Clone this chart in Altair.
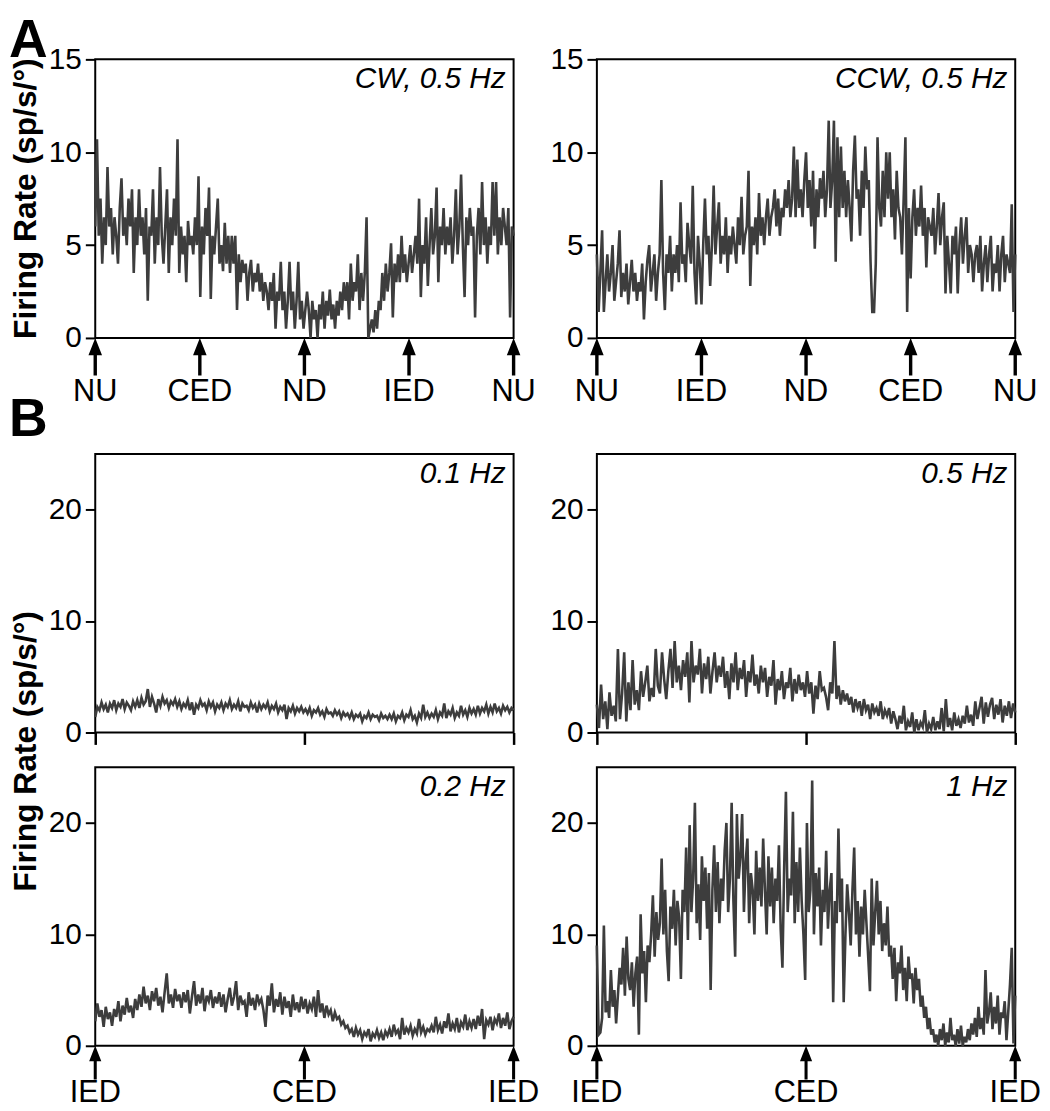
import altair as alt
import pandas as pd

W, H = 422, 281

# ---- data (firing rate, sp/s/deg, evenly spaced over one cycle) ----
cw_05 = [6, 10.7, 5.5, 7.5, 4, 6.5, 5, 9.2, 6, 7, 4.5, 6.5, 5.5, 4, 7, 8.6, 5.5, 6.5, 5, 7.5, 6, 8, 3.5, 6.5,
         5, 8, 5.5, 6.5, 4.5, 7, 2, 6, 5.5, 8, 4, 6.5, 5, 9.2, 5.5, 4, 6, 8, 3.5, 6.5, 5, 7.5, 5.5, 10.7,
         3.5, 6, 4.5, 5.5, 3, 6.3, 5, 5.5, 4.5, 6.5, 5, 8.7, 2.2, 6, 4.5, 7, 5.5, 8.1, 2.1, 5.5, 4.5, 6, 7.5, 4,
         5, 3.6, 6.2, 4, 5.5, 3.5, 5.5, 4, 5.5, 1.5, 4.5, 3, 4.2, 3.5, 4, 2, 3.5, 4.2, 2.5, 3.5, 3, 4, 2.5, 3.5,
         2, 3, 2.5, 1.5, 3, 2, 3.5, 0.5, 2.5, 2, 4.1, 1.5, 2.5, 0.5, 2, 4.1, 1.5, 2.5, 0.5, 2, 4.1, 1, 2, 0.5,
         1.5, 2.5, 1.5, 0, 2, 1, 1.5, 0, 1.8, 1, 2.5, 0.5, 2, 1.2, 2.6, 1, 1.8, 0.5, 2, 1.2, 2.5, 1.5, 3, 2,
         3, 1, 4, 2, 3, 2.5, 4.5, 1.5, 3.5, 2, 3.5, 6.5, 0, 0.5, 1, 0.3, 1.5, 0.5, 2, 1.5, 3.5, 2, 4, 2.5,
         3.5, 5.1, 1.1, 4, 3, 4.5, 3, 5.5, 3.5, 4.5, 3, 4, 5, 3.5, 4.5, 5.5, 4, 7.5, 2.2, 5, 4, 6.5, 2.8, 5,
         7, 4.5, 5.5, 8.1, 3, 6, 5, 7, 4.5, 6, 5, 6.5, 4, 5.5, 8, 4.5, 6, 8.8, 5, 2.2, 6.5, 5, 7, 5.5,
         6, 1.1, 5.5, 7, 4.5, 8.4, 5, 6.5, 4, 6, 5, 8.4, 5.5, 8.4, 4.5, 6.5, 5, 7, 6, 5, 7, 1.1, 6, 5.5]

ccw_05 = [4.5, 1.4, 3.5, 5.8, 1.4, 3, 4.5, 2.5, 3.5, 5, 2, 3, 4, 5.8, 2.2, 3.5, 2.5, 4, 1.8, 3, 4.2, 2.5, 3.5, 2,
          3, 2.5, 4, 1, 3, 4.2, 5, 2.5, 3.5, 4.5, 2, 3.5, 4.5, 8.5, 3.5, 1.5, 4.5, 3.5, 5.5, 2.5, 4.5, 3.5, 5, 3,
          7.3, 4, 4.5, 3, 6.2, 5, 4, 8.2, 3.5, 1.8, 5.5, 4, 1.8, 5, 7.5, 4.5, 5.5, 2.8, 5, 8.2, 4.5, 6, 7.3, 4,
          5.5, 4.5, 6.5, 3.5, 5.5, 4.5, 6, 5, 4, 6.5, 5, 7.6, 4.5, 5.5, 6, 9, 2.8, 6, 5, 6.5, 4.5, 7.8, 5.5, 6.5,
          5, 6.5, 7.5, 5.5, 6.5, 7, 8, 6, 7.5, 5.5, 7, 6.5, 8, 7, 8.5, 6.5, 7.5, 10.3, 6.5, 9.6, 7, 8, 6.5, 8.5,
          10, 7, 8.5, 6, 9, 4.8, 8, 6.5, 8.6, 7.5, 9, 6.5, 8, 11.7, 7, 8.5, 11.7, 4.1, 10.8, 6.5, 10.3, 7, 9, 6.5,
          8.5, 7, 5.2, 9, 10.9, 7.5, 8, 5.5, 9, 7, 10.3, 8, 8.5, 4.1, 1.4, 1.4, 4, 10.8, 7, 6, 9, 6.5, 10, 7.5,
          10, 6.5, 8, 5.3, 9, 7, 6.5, 4.5, 7.5, 10.8, 1.4, 7, 3.2, 6.5, 8, 5.5, 7, 6, 8.2, 5.5, 7, 3.8, 6.5, 6,
          5.5, 7, 4.5, 6, 7.8, 5, 6.5, 7.3, 2.4, 5.5, 4, 2.4, 5.5, 4.5, 6, 2.4, 5, 6.5, 4, 5.5, 6.5, 3.5, 5, 4.5,
          3, 4.5, 5, 3.5, 5.5, 2.5, 4, 5, 3, 4.5, 5.5, 2.5, 4, 3.5, 5, 2.5, 4.5, 5.5, 3, 4.5, 4, 3.5, 7.2, 1.4, 4.5]

hz_01 = [1.4, 2.3, 2.0, 2.7, 2.1, 2.5, 1.8, 2.6, 2.2, 2.9, 2.0, 2.6, 2.3, 3.0, 2.1, 2.7, 2.4, 2.0, 2.8, 2.3,
         2.9, 2.2, 3.1, 2.5, 2.8, 3.9, 2.3, 3.2, 2.6, 1.8, 3.0, 2.4, 3.2, 2.6, 2.9, 2.2, 2.8, 2.5, 3.0, 2.3,
         2.8, 2.1, 2.6, 2.3, 2.9, 2.0, 2.7, 1.6, 2.5, 2.2, 2.9, 2.4, 2.6, 2.0, 2.8, 2.3, 2.7, 1.9, 2.5, 2.2,
         2.7, 2.0, 2.6, 2.3, 2.9, 2.1, 2.5, 2.2, 2.8, 1.9, 2.6, 2.3, 2.4, 2.0, 2.7, 2.2, 2.5, 1.8, 2.6, 2.1,
         2.5, 2.2, 2.7, 1.9, 2.4, 2.1, 2.6, 1.8, 2.3, 2.0, 2.5, 1.2, 2.2, 1.9, 2.4, 1.7, 2.2, 1.9, 2.3, 1.8,
         2.1, 1.7, 2.2, 1.5, 2.0, 1.8, 2.2, 1.6, 1.9, 1.4, 2.1, 1.7, 1.8, 1.5, 2.0, 1.6, 1.9, 1.3, 1.8, 1.5,
         1.7, 1.3, 1.8, 1.2, 1.6, 1.4, 1.7, 1.0, 1.5, 1.3, 1.8, 1.2, 1.6, 1.4, 1.5, 1.1, 1.7, 1.3, 1.5, 1.2,
         1.6, 1.2, 1.7, 1.0, 1.5, 1.3, 1.8, 1.1, 1.6, 1.4, 2.0, 1.2, 1.5, 0.9, 1.7, 1.3, 2.5, 1.4, 1.8, 1.3,
         1.7, 1.4, 2.0, 1.2, 1.8, 1.5, 2.6, 1.3, 1.9, 1.6, 2.2, 1.3, 1.8, 1.5, 2.4, 1.6, 2.0, 1.4, 2.2, 1.7,
         2.1, 1.6, 2.4, 1.7, 2.2, 1.9, 2.5, 1.7, 2.3, 1.8, 2.6, 1.9, 2.2, 1.7, 2.4, 2.0, 2.3, 1.8, 2.2, 2.0]

hz_05 = [2.5, 0.4, 4.3, 1.2, 2.8, 0.3, 3.6, 1.5, 2.4, 1.0, 7.5, 1.2, 3.5, 7.2, 1.0, 4.5, 2.0, 6.5, 2.5, 3.8,
         2.0, 5.5, 3.2, 4.5, 6.0, 2.8, 4.0, 3.2, 7.5, 4.2, 3.5, 7.2, 4.8, 3.0, 5.5, 7.5, 4.0, 8.2, 4.5, 6.0,
         3.8, 6.5, 5.0, 7.2, 2.7, 8.2, 4.5, 6.0, 5.2, 7.5, 3.5, 6.2, 4.8, 6.8, 3.5, 5.5, 7.2, 4.5, 6.0, 5.0,
         6.8, 4.0, 5.5, 3.0, 6.2, 4.5, 7.2, 3.8, 5.8, 4.8, 6.5, 3.2, 5.5, 4.5, 7.0, 4.2, 5.2, 3.5, 6.0, 4.5,
         5.8, 3.2, 5.0, 4.2, 6.5, 2.5, 4.8, 3.8, 5.5, 3.0, 4.5, 4.0, 5.8, 2.8, 4.8, 3.5, 5.2, 3.8, 4.5, 3.2,
         5.5, 3.5, 4.5, 1.7, 4.2, 3.0, 5.5, 3.8, 4.0, 3.2, 2.0, 4.5, 3.5, 8.2, 3.0, 4.2, 2.5, 3.8, 2.8, 3.5,
         2.5, 3.2, 1.8, 3.0, 2.2, 2.8, 1.5, 3.0, 2.0, 2.5, 1.2, 2.6, 1.8, 2.2, 1.5, 2.8, 1.2, 2.0, 1.5, 2.2,
         0.8, 1.9, 1.2, 0.3, 1.5, 0.8, 2.4, 0.2, 1.0, 0.5, 1.8, 0.0, 1.2, 0.2, 0.9, 0.5, 2.0, 0.0, 0.8, 0.3,
         1.4, 0.2, 1.0, 0.3, 2.2, 0.1, 3.0, 0.5, 1.3, 0.2, 1.8, 0.6, 1.2, 0.4, 1.5, 0.8, 2.4, 0.9, 1.6, 0.6,
         2.8, 1.2, 2.2, 3.2, 0.8, 2.7, 1.4, 2.5, 3.1, 1.2, 2.5, 1.6, 3.0, 0.9, 2.4, 1.5, 2.8, 1.3, 2.6, 1.8]

hz_02 = [2.2, 3.8, 2.6, 3.2, 1.7, 3.5, 2.4, 3.0, 1.8, 3.3, 2.6, 4.0, 2.2, 3.6, 2.8, 4.3, 3.0, 3.6, 2.5, 4.2,
         3.2, 4.6, 3.5, 5.3, 3.8, 4.5, 3.2, 4.9, 4.0, 5.2, 3.6, 4.4, 3.0, 4.8, 6.5, 3.8, 4.6, 3.4, 5.1, 4.0,
         4.6, 3.4, 4.8, 3.9, 5.0, 2.9, 4.4, 5.8, 3.6, 4.6, 3.8, 5.2, 3.1, 4.5, 4.0, 5.0, 3.4, 4.4, 3.8, 4.8,
         3.5, 4.6, 3.0, 4.2, 5.2, 3.6, 4.4, 5.8, 3.2, 4.5, 3.8, 4.0, 2.6, 4.8, 3.6, 4.3, 3.2, 4.6, 3.8, 4.2,
         3.2, 1.7, 4.5, 3.6, 5.6, 3.0, 4.2, 3.5, 4.8, 2.8, 4.4, 3.4, 4.0, 2.6, 4.6, 3.2, 3.9, 3.0, 4.4, 3.3,
         4.2, 2.9, 3.8, 3.3, 4.4, 2.6, 5.0, 3.0, 3.8, 2.5, 3.6, 2.8, 3.2, 2.2, 3.0, 2.4, 2.6, 1.9, 2.2, 1.6,
         1.8, 1.2, 1.5, 0.8, 1.6, 1.0, 1.4, 0.6, 1.2, 0.9, 1.5, 0.4, 1.1, 0.8, 1.4, 0.7, 1.2, 0.5, 1.3, 0.9,
         1.5, 0.8, 1.9, 1.1, 1.4, 0.6, 2.5, 1.0, 1.6, 1.2, 1.8, 0.9, 1.5, 1.1, 2.4, 1.2, 1.7, 1.0, 1.5, 1.3,
         1.8, 1.2, 2.6, 1.4, 1.9, 1.1, 2.2, 1.6, 2.9, 1.3, 2.0, 1.5, 2.5, 1.2, 2.1, 1.7, 2.8, 1.4, 2.2, 1.6,
         2.4, 1.5, 2.7, 1.8, 3.3, 0.6, 2.3, 1.9, 2.6, 1.4, 2.4, 2.0, 2.9, 1.6, 2.5, 1.8, 3.0, 1.5, 2.2, 2.6]

hz_1 = [9, 1, 1.2, 2.5, 10.8, 3, 4, 2.5, 6.8, 3.5, 5, 2, 4.5, 7, 5.5, 8.8, 4.5, 9.8, 6, 5, 7.5, 3.5, 6.5, 8,
        1, 11.8, 6.5, 8.5, 3.9, 9, 7.5, 10, 13.5, 8, 12, 9.5, 11, 16.8, 10, 14, 8.5, 5.8, 12.5, 10.5, 14, 9, 13, 11.5,
        6, 14, 12, 17.8, 9.5, 19.8, 12, 15, 21.8, 11, 14.5, 9.5, 17, 13, 16, 10.5, 15.5, 5, 14, 18, 12, 16.5, 11, 15,
        13, 17.5, 20, 12, 15, 21.8, 13, 8, 20.8, 15, 17, 20.8, 12, 16.5, 18.6, 11, 15.5, 14, 10, 17.5, 13, 16, 12.5, 18.6,
        14, 10, 17, 12.5, 16, 11, 15, 13, 18, 10.5, 7, 16, 22.8, 12, 15, 13.5, 21, 11, 16.5, 12, 17.8, 13, 10, 5.9,
        20, 12, 14, 23.8, 10, 15.5, 12.5, 16, 9, 14, 12, 17.5, 10.5, 14, 15.5, 3.9, 13, 11, 19.5, 12, 15, 3.9, 10, 14.5,
        12, 9, 14, 17.8, 10, 13, 8, 12.5, 10, 14, 11, 8, 4.9, 15, 9, 12, 14.8, 10, 13, 8.5, 11, 9, 12.5, 8,
        9, 6, 8.8, 4, 7.5, 6.5, 9, 5, 7, 4, 8, 6, 6.5, 3.8, 7, 5, 6, 3.5, 4.5, 2.5, 3.5, 1.5, 2.5, 1,
        1.5, 0.3, 1, 0, 1.5, 0.5, 2, 0, 1.2, 0.3, 2.5, 0.5, 1, 0, 1.5, 0.2, 1.8, 0, 0.8, 0.3, 1.5, 0.5, 2, 1,
        2.5, 0.8, 3.5, 1.5, 2.5, 1, 6.8, 2, 3, 4.8, 1.5, 3.5, 2, 4.5, 1, 3, 2.5, 4, 0.5, 3, 5.5, 8.8, 0.2, 4.5]

a_tick_pos = [0, 90, 180, 270, 360]
a_left_labels = ["NU", "CED", "ND", "IED", "NU"]
a_right_labels = ["NU", "IED", "ND", "CED", "NU"]
b_tick_pos = [0, 180, 360]
b_labels = ["IED", "CED", "IED"]
a_yticks = [0, 5, 10, 15]
b_yticks = [0, 10, 20]

FONT = "Liberation Sans"
LINE = "#3d3d3d"
ARROW = "M0,-1L0.36,-0.08L0.09,-0.08L0.09,1L-0.09,1L-0.09,-0.08L-0.36,-0.08Z"
Y_TITLE = "Firing Rate (sp/s/°)"


def trace_df(vals):
    n = len(vals)
    return pd.DataFrame({"phase": [360.0 * i / (n - 1) for i in range(n)], "rate": vals})


def text_layer(txt, x, y, **kw):
    return alt.Chart(pd.DataFrame({"t": [txt]})).mark_text(font=FONT, color="black", **kw).encode(
        x=alt.value(x), y=alt.value(y), text="t:N")


def panel(vals, ymax, yticks, note, labels=None, ticks=None, extras=(), arrow_half=19, label_gap=40):
    xscale = alt.Scale(domain=[0, 360], nice=False, zero=False)
    if labels is None:
        xenc = alt.X("phase:Q", scale=xscale,
                     axis=alt.Axis(values=ticks, labels=False, tickSize=12, tickWidth=2.5,
                                   domain=False, grid=False, title=None))
    else:
        xenc = alt.X("phase:Q", scale=xscale, axis=None)
    yenc = alt.Y("rate:Q", scale=alt.Scale(domain=[0, ymax], nice=False),
                 axis=alt.Axis(values=yticks, title=None, tickSize=10, tickWidth=2,
                               labelPadding=4, domain=False, grid=False))
    line = alt.Chart(trace_df(vals)).mark_line(color=LINE, strokeWidth=2.6).encode(x=xenc, y=yenc)
    layers = [line, text_layer(note, W - 8, 29, fontSize=30, fontStyle="italic",
                               align="right", baseline="alphabetic")]
    if labels is not None:
        tdf = pd.DataFrame({"phase": ticks, "lab": labels})
        arrows = alt.Chart(tdf).mark_point(shape=ARROW, size=(2 * arrow_half) ** 2, filled=True,
                                           color="black", opacity=1, strokeWidth=0).encode(
            x=alt.X("phase:Q"), y=alt.value(H + arrow_half))
        labs = alt.Chart(tdf).mark_text(font=FONT, fontSize=31, baseline="top", align="center",
                                        color="black").encode(
            x=alt.X("phase:Q"), y=alt.value(H + label_gap), text="lab:N")
        layers += [arrows, labs]
    layers += list(extras)
    return alt.layer(*layers).properties(width=W, height=H)


def spacer():
    return alt.Chart(pd.DataFrame({"a": [0]})).mark_point(opacity=0).encode(
        x=alt.value(0), y=alt.value(0)).properties(
        width=W, height=47, view=alt.ViewBackground(strokeOpacity=0, strokeWidth=0))


a1 = panel(cw_05, 15, a_yticks, "CW, 0.5 Hz", a_left_labels, a_tick_pos, extras=[
    text_layer("A", -87, -2.5, fontSize=54, fontWeight="bold", align="left", baseline="alphabetic"),
    text_layer(Y_TITLE, -70, H / 2, fontSize=32, fontWeight="bold", angle=270,
               align="center", baseline="middle"),
])
a2 = panel(ccw_05, 15, a_yticks, "CCW, 0.5 Hz", a_right_labels, a_tick_pos)
b1 = panel(hz_01, 25, b_yticks, "0.1 Hz", None, b_tick_pos, extras=[
    text_layer("B", -87, -18, fontSize=54, fontWeight="bold", align="left", baseline="alphabetic"),
])
b2 = panel(hz_05, 25, b_yticks, "0.5 Hz", None, b_tick_pos)
c1 = panel(hz_02, 25, b_yticks, "0.2 Hz", b_labels, b_tick_pos, arrow_half=17, label_gap=33, extras=[
    text_layer(Y_TITLE, -70, -16, fontSize=32, fontWeight="bold", angle=270,
               align="center", baseline="middle"),
])
c2 = panel(hz_1, 25, b_yticks, "1 Hz", b_labels, b_tick_pos, arrow_half=17, label_gap=33)

chart = alt.concat(a1, a2, spacer(), spacer(), b1, b2, c1, c2, columns=2,
                   spacing={"row": 35, "column": 84}, bounds="flush", align="each").properties(
    padding=0
).configure_view(
    stroke="black", strokeWidth=2
).configure_axis(
    domain=False, grid=False, tickColor="black", labelColor="black",
    labelFont=FONT, labelFontSize=30
)

chart.save("out.html", embed_options={"renderer": "svg", "actions": False})
